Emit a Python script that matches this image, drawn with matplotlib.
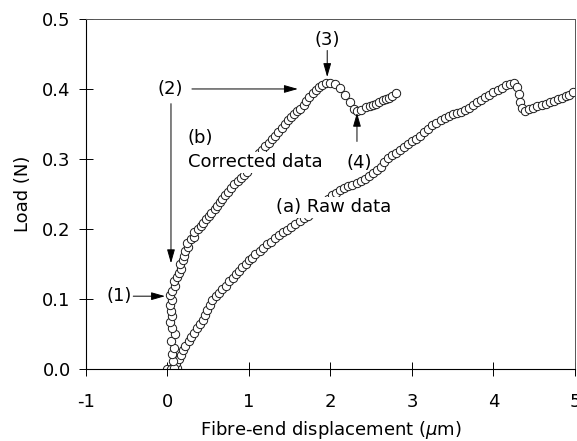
import matplotlib
matplotlib.use('Agg')
import matplotlib.pyplot as plt

plt.rcParams['font.family'] = 'DejaVu Sans'
plt.rcParams['axes.unicode_minus'] = False

# (b) corrected data
corr_x = [0.00, 0.04, 0.08, 0.07, 0.05, 0.08, 0.04, 0.09, 0.05, 0.03, 0.05, 0.04, 0.03, 0.05,
          0.03, 0.06, 0.09, 0.08, 0.12, 0.14, 0.16, 0.15, 0.19, 0.20, 0.22, 0.25, 0.24, 0.29,
          0.33, 0.32, 0.37, 0.41, 0.44, 0.47, 0.51, 0.54, 0.58, 0.61, 0.64, 0.67, 0.70, 0.74,
          0.78, 0.82, 0.86, 0.90, 0.94, 0.98, 1.02, 1.06, 1.09, 1.12, 1.16, 1.20, 1.24, 1.28,
          1.32, 1.36, 1.40, 1.44, 1.48, 1.52, 1.55, 1.59, 1.63, 1.67, 1.70, 1.74, 1.78, 1.82,
          1.86, 1.90, 1.95, 2.00, 2.05, 2.12, 2.18, 2.24, 2.29, 2.33, 2.38, 2.43, 2.48, 2.52,
          2.56, 2.60, 2.64, 2.68, 2.72, 2.76, 2.81]
corr_y = [0.000, 0.000, 0.002, 0.012, 0.022, 0.030, 0.040, 0.050, 0.058, 0.067, 0.075, 0.083,
          0.091, 0.098, 0.105, 0.112, 0.118, 0.125, 0.131, 0.137, 0.143, 0.150, 0.156, 0.162,
          0.168, 0.174, 0.180, 0.185, 0.189, 0.195, 0.200, 0.204, 0.209, 0.214, 0.218, 0.223,
          0.228, 0.233, 0.238, 0.243, 0.248, 0.253, 0.259, 0.264, 0.268, 0.273, 0.277, 0.282,
          0.287, 0.294, 0.301, 0.308, 0.313, 0.318, 0.323, 0.328, 0.333, 0.338, 0.344, 0.350,
          0.355, 0.360, 0.364, 0.368, 0.372, 0.377, 0.383, 0.389, 0.394, 0.399, 0.403, 0.406,
          0.408, 0.409, 0.407, 0.402, 0.391, 0.381, 0.371, 0.368, 0.370, 0.374, 0.376, 0.377,
          0.379, 0.381, 0.384, 0.385, 0.387, 0.390, 0.394]

# (a) raw data
raw_x = [0.05, 0.09, 0.12, 0.11, 0.14, 0.17, 0.19, 0.22, 0.26, 0.29, 0.32, 0.36, 0.40, 0.43,
         0.46, 0.49, 0.52, 0.55, 0.59, 0.63, 0.67, 0.72, 0.76, 0.80, 0.84, 0.88, 0.92, 0.96,
         1.00, 1.04, 1.08, 1.13, 1.17, 1.22, 1.27, 1.32, 1.37, 1.42, 1.47, 1.52, 1.57, 1.62,
         1.67, 1.72, 1.77, 1.82, 1.87, 1.92, 1.97, 2.02, 2.07, 2.12, 2.17, 2.22, 2.27, 2.32,
         2.37, 2.42, 2.47, 2.52, 2.57, 2.62, 2.66, 2.70, 2.75, 2.80, 2.85, 2.90, 2.95, 3.00,
         3.05, 3.10, 3.15, 3.20, 3.25, 3.30, 3.35, 3.40, 3.45, 3.50, 3.55, 3.60, 3.65, 3.70,
         3.75, 3.80, 3.85, 3.90, 3.95, 4.00, 4.05, 4.10, 4.15, 4.20, 4.25, 4.29, 4.31, 4.33,
         4.35, 4.39, 4.44, 4.49, 4.54, 4.59, 4.64, 4.69, 4.74, 4.79, 4.84, 4.89, 4.93, 4.97]
raw_y = [0.000, 0.000, 0.002, 0.008, 0.014, 0.020, 0.027, 0.033, 0.040, 0.046, 0.052, 0.058,
         0.064, 0.070, 0.077, 0.084, 0.091, 0.098, 0.104, 0.109, 0.114, 0.119, 0.125, 0.130,
         0.135, 0.140, 0.145, 0.150, 0.155, 0.159, 0.164, 0.168, 0.173, 0.178, 0.182, 0.187,
         0.191, 0.195, 0.199, 0.203, 0.207, 0.211, 0.215, 0.219, 0.223, 0.228, 0.233, 0.238,
         0.243, 0.248, 0.252, 0.256, 0.259, 0.261, 0.263, 0.265, 0.268, 0.272, 0.276, 0.280,
         0.284, 0.289, 0.295, 0.301, 0.305, 0.309, 0.313, 0.317, 0.321, 0.325, 0.329, 0.333,
         0.338, 0.343, 0.348, 0.352, 0.356, 0.359, 0.362, 0.364, 0.365, 0.367, 0.370, 0.373,
         0.377, 0.381, 0.384, 0.388, 0.392, 0.396, 0.399, 0.402, 0.405, 0.407, 0.408, 0.403,
         0.393, 0.382, 0.373, 0.369, 0.371, 0.373, 0.375, 0.377, 0.379, 0.381, 0.383, 0.385,
         0.387, 0.390, 0.392, 0.396]

x_ticks = [-1, 0, 1, 2, 3, 4, 5]
y_ticks = [0.0, 0.1, 0.2, 0.3, 0.4, 0.5]

fs = 13

fig = plt.figure(figsize=(5.77, 4.41), dpi=100)
ax = fig.add_axes([0.149, 0.1633, 0.8475, 0.7937])

mk = dict(marker='o', markersize=6, markerfacecolor='white', markeredgecolor='#1a1a1a',
          markeredgewidth=0.7, color='#333333', linewidth=0.5)
ax.plot(raw_x, raw_y, **mk)
ax.plot(corr_x, corr_y, **mk)

ax.set_xlim(-1, 5)
ax.set_ylim(0, 0.5)
ax.set_xticks(x_ticks)
ax.set_xticklabels([str(t) for t in x_ticks])
ax.set_yticks(y_ticks)
ax.set_yticklabels(['%.1f' % t for t in y_ticks])
ax.tick_params(direction='inout', length=10, width=0.7, labelsize=fs)
ax.tick_params(axis='x', pad=12)
ax.tick_params(axis='y', pad=6)
for side in ['left', 'bottom']:
    ax.spines[side].set_linewidth(0.8)
for side in ['top', 'right']:
    ax.spines[side].set_linewidth(0.7)
    ax.spines[side].set_color('#555555')
ax.spines['right'].set_linestyle((0, (2, 1)))

ax.set_xlabel(r'Fibre-end displacement ($\mu$m)', fontsize=fs, labelpad=6)
ax.set_ylabel('Load (N)', fontsize=fs, labelpad=7)

# labels on the curves, with white box hiding the data underneath
box = dict(facecolor='white', edgecolor='none', pad=1)
ax.text(0.25, 0.33, '(b)', fontsize=fs, ha='left', va='center', zorder=5)
ax.text(0.25, 0.295, 'Corrected data', fontsize=fs, ha='left', va='center',
        bbox=box, zorder=5)
ax.text(1.33, 0.231, '(a) Raw data', fontsize=fs, ha='left', va='center',
        bbox=box, zorder=5)

arrow = dict(arrowstyle='-|>,head_length=0.7,head_width=0.2', color='black',
             lw=0.7, mutation_scale=12, shrinkA=0, shrinkB=0)
ax.text(-0.59, 0.104, '(1)', fontsize=fs, ha='center', va='center')
ax.annotate('', xy=(-0.03, 0.104), xytext=(-0.42, 0.104), arrowprops=arrow)

ax.text(0.04, 0.40, '(2)', fontsize=fs, ha='center', va='center')
ax.annotate('', xy=(1.60, 0.40), xytext=(0.30, 0.40), arrowprops=arrow)
ax.annotate('', xy=(0.043, 0.151), xytext=(0.043, 0.379), arrowprops=arrow)

ax.text(1.96, 0.47, '(3)', fontsize=fs, ha='center', va='center')
ax.annotate('', xy=(1.96, 0.417), xytext=(1.96, 0.455), arrowprops=arrow)

ax.text(2.35, 0.294, '(4)', fontsize=fs, ha='center', va='center')
ax.annotate('', xy=(2.325, 0.366), xytext=(2.325, 0.325), arrowprops=arrow)

fig.savefig('out.png', dpi=100)
